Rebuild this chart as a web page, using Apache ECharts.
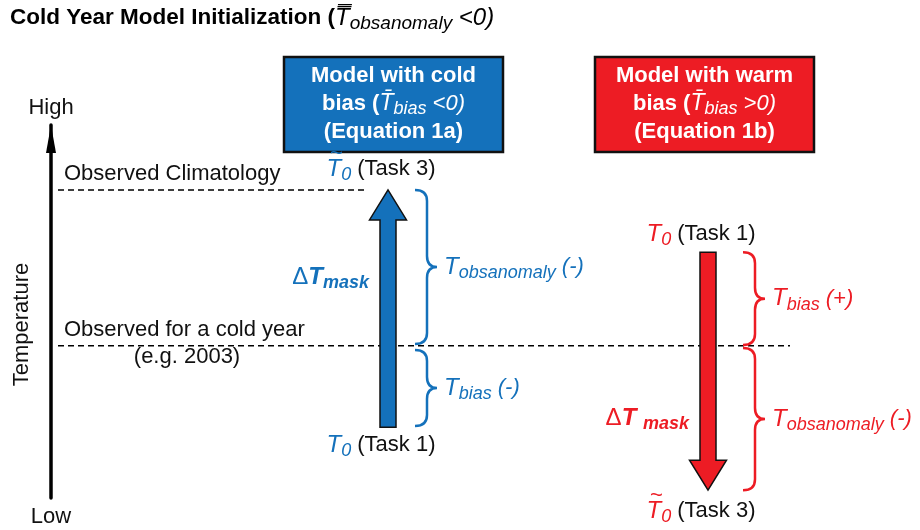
<!DOCTYPE html>
<html>
<head>
<meta charset="utf-8">
<script src="https://cdn.jsdelivr.net/npm/echarts@6/dist/echarts.min.js"></script>
<style>html,body{margin:0;background:#fff}#chart{width:920px;height:530px}</style>
</head>
<body>
<div id="chart"></div>
<script>
const FONT = "'Liberation Sans', Arial, sans-serif";
const BLUE = '#1471bb';
const RED = '#ed1c24';

// temperature scale: Low = 0, High = 100
const levelNames = ['Observed Climatology', 'Observed for a cold year'];
const levelNotes = ['', '(e.g. 2003)'];
const levelTemps = [82.6, 40.8];
const levelEnds = [368, 790];

const modelTitles = ['Model with cold', 'Model with warm'];
const modelSigns = ['<0', '>0'];
const modelEquations = ['(Equation 1a)', '(Equation 1b)'];
const modelColors = [BLUE, RED];
const arrowX = [388, 708];
const startTemps = [19.0, 65.9]; // T0 (Task 1)
const endTemps = [82.6, 2.1];    // T~0 (Task 3)
const maskTemps = [59.2, 21.4];
const maskGaps = ['', ' '];

const braceModel = [0, 0, 1, 1];
const braceTops = [82.6, 39.7, 65.9, 40.2];
const braceBottoms = [41.3, 19.3, 41.0, 2.1];
const braceTerms = ['obsanomaly', 'bias', 'bias', 'obsanomaly'];
const braceSigns = ['(-)', '(-)', '(+)', '(-)'];
const braceX = [415, 743];

const boxLeft = [284, 595];

function tRich(c) {
  return {
    t: {fill: c, fontSize: 24, fontStyle: 'italic', fontFamily: FONT, lineHeight: 30},
    s: {fill: c, fontSize: 18, fontStyle: 'italic', fontFamily: FONT, lineHeight: 30, padding: [12, 0, 0, 0]},
    n: {fill: '#111', fontSize: 22, fontFamily: FONT, lineHeight: 30},
    c: {fill: c, fontSize: 22, fontStyle: 'italic', fontFamily: FONT, lineHeight: 30}
  };
}
function maskRich(c) {
  return {
    d: {fill: c, fontSize: 24, fontFamily: FONT, lineHeight: 30},
    t: {fill: c, fontSize: 24, fontStyle: 'italic', fontWeight: 'bold', fontFamily: FONT, lineHeight: 30},
    s: {fill: c, fontSize: 18, fontStyle: 'italic', fontWeight: 'bold', fontFamily: FONT, lineHeight: 30, padding: [12, 0, 0, 0]}
  };
}
const boxRich = {
  w: {fill: '#fff', fontSize: 22, fontWeight: 'bold', fontFamily: FONT, lineHeight: 28},
  t: {fill: '#fff', fontSize: 23, fontStyle: 'italic', fontFamily: FONT, lineHeight: 28},
  s: {fill: '#fff', fontSize: 18, fontStyle: 'italic', fontFamily: FONT, lineHeight: 28, padding: [10, 0, 0, 0]},
  i: {fill: '#fff', fontSize: 22, fontStyle: 'italic', fontFamily: FONT, lineHeight: 28}
};

// width of the "T0 (Task n)" label, used to place the tilde above the T
const labelCanvas = document.createElement('canvas').getContext('2d');
function textWidth(str, font) {
  labelCanvas.font = font;
  return labelCanvas.measureText(str).width;
}
function taskLabel(x, y, c, task, tilde) {
  const w = textWidth('T', 'italic 24px ' + FONT) + textWidth('0', 'italic 18px ' + FONT) +
    textWidth(' (Task ' + task + ')', '22px ' + FONT);
  const els = [{type: 'text', style: {text: '{t|T}{s|0}{n| (Task ' + task + ')}', x: x, y: y,
    align: 'center', verticalAlign: 'middle', rich: tRich(c)}}];
  if (tilde) {
    els.push({type: 'text', style: {text: '~', x: x - w / 2 + 10, y: y - 15, align: 'center', verticalAlign: 'middle',
      fill: c, font: '22px ' + FONT}});
  }
  return els;
}

const chart = echarts.init(document.getElementById('chart'), null, {renderer: 'canvas'});

const option = {
  animation: false,
  backgroundColor: '#fff',
  title: {
    text: '{b|Cold Year Model Initialization (}{t|T\u033F}{s|obsanomaly}{i| <0)}',
    left: 10, top: 3, padding: 0,
    textStyle: {
      rich: {
        b: {color: '#000', fontSize: 22.5, fontWeight: 'bold', fontFamily: FONT, lineHeight: 30},
        t: {color: '#000', fontSize: 24, fontWeight: 'normal', fontStyle: 'italic', fontFamily: FONT, lineHeight: 30},
        s: {color: '#000', fontSize: 19, fontWeight: 'normal', fontStyle: 'italic', fontFamily: FONT, lineHeight: 30, padding: [12, 0, 0, 0]},
        i: {color: '#000', fontSize: 24, fontWeight: 'normal', fontStyle: 'italic', fontFamily: FONT, lineHeight: 30}
      }
    }
  },
  grid: {left: 51, right: 0, top: 125, bottom: 32},
  xAxis: {type: 'value', min: 51, max: 920, show: false},
  yAxis: {
    type: 'value', min: 0, max: 100,
    name: 'Temperature', nameLocation: 'middle', nameGap: 18, nameRotate: 90,
    nameTextStyle: {fontSize: 22, color: '#111', fontFamily: FONT, padding: [0, 26, 0, 0]},
    axisLine: {show: true, onZero: false, symbol: ['none', 'triangle'], symbolSize: [10, 28], symbolOffset: [0, -14],
      lineStyle: {color: '#000', width: 3.5}},
    axisTick: {show: false}, axisLabel: {show: false}, splitLine: {show: false}
  },
  graphic: [
    {type: 'text', style: {text: 'High', x: 51, y: 108, align: 'center', verticalAlign: 'middle', fill: '#111', font: '22px ' + FONT}},
    {type: 'text', style: {text: 'Low', x: 51, y: 517, align: 'center', verticalAlign: 'middle', fill: '#111', font: '22px ' + FONT}}
  ].concat(modelTitles.map((name, i) => ({
    type: 'group',
    children: [
      {type: 'rect', shape: {x: boxLeft[i], y: 57, width: 219, height: 95},
        style: {fill: modelColors[i], stroke: '#111', lineWidth: 2.5}},
      {type: 'text', style: {
        text: '{w|' + name + '}\n{w|bias (}{t|T\u0304}{s|bias}{i| ' + modelSigns[i] + ')}\n{w|' + modelEquations[i] + '}',
        x: boxLeft[i] + 109.5, y: 103.5, align: 'center', verticalAlign: 'middle', rich: boxRich}}
    ]
  }))),
  series: [
    {
      type: 'custom', coordinateSystem: 'cartesian2d', silent: true, clip: false,
      data: levelTemps.map((t, i) => [58, t, levelEnds[i]]),
      renderItem(params, api) {
        const i = params.dataIndex;
        const a = api.coord([api.value(0), api.value(1)]);
        const b = api.coord([api.value(2), api.value(1)]);
        const children = [
          {type: 'line', shape: {x1: a[0], y1: a[1], x2: b[0], y2: b[1]},
            style: {stroke: '#000', lineWidth: 1.5, lineDash: [6, 4]}},
          {type: 'text', style: {text: levelNames[i], x: a[0] + 6, y: a[1] - 16, align: 'left', verticalAlign: 'middle',
            fill: '#111', font: '22px ' + FONT}}
        ];
        if (levelNotes[i]) {
          children.push({type: 'text', style: {text: levelNotes[i], x: a[0] + 129, y: a[1] + 11, align: 'center',
            verticalAlign: 'middle', fill: '#111', font: '22px ' + FONT}});
        }
        return {type: 'group', children: children};
      }
    },
    {
      type: 'custom', coordinateSystem: 'cartesian2d', silent: true, clip: false,
      data: arrowX.map((x, i) => [x, startTemps[i], endTemps[i], maskTemps[i]]),
      renderItem(params, api) {
        const i = params.dataIndex;
        const s = api.coord([api.value(0), api.value(1)]);
        const e = api.coord([api.value(0), api.value(2)]);
        const m = api.coord([api.value(0), api.value(3)]);
        const x = s[0];
        const dir = e[1] > s[1] ? 1 : -1;
        const hb = e[1] - dir * 30;
        const c = modelColors[i];
        const pts = [[x - 8, s[1]], [x - 8, hb], [x - 18.5, hb], [x, e[1]], [x + 18.5, hb], [x + 8, hb], [x + 8, s[1]]];
        return {type: 'group', children: [
          {type: 'polygon', shape: {points: pts}, style: {fill: c, stroke: '#111', lineWidth: 1.5}},
          {type: 'text', style: {text: '{d|\u0394}{t|T' + maskGaps[i] + '}{s|mask}', x: x - 19, y: m[1], align: 'right',
            verticalAlign: 'middle', rich: maskRich(c)}}
        ].concat(taskLabel(x - 7, s[1] - dir * 18, c, 1, false), taskLabel(x - 7, e[1] + dir * 21, c, 3, true))};
      }
    },
    {
      type: 'custom', coordinateSystem: 'cartesian2d', silent: true, clip: false,
      data: braceModel.map((m, i) => [braceX[m], braceTops[i], braceBottoms[i]]),
      renderItem(params, api) {
        const i = params.dataIndex;
        const c = modelColors[braceModel[i]];
        const t = api.coord([api.value(0), api.value(1)]);
        const b = api.coord([api.value(0), api.value(2)]);
        const x0 = t[0], xv = x0 + 12, xt = x0 + 22;
        const yt = t[1], yb = b[1], ym = (yt + yb) / 2, r = 11;
        const d = 'M' + x0 + ',' + yt + ' Q' + xv + ',' + yt + ' ' + xv + ',' + (yt + r) +
          ' L' + xv + ',' + (ym - r) + ' Q' + xv + ',' + ym + ' ' + xt + ',' + ym +
          ' Q' + xv + ',' + ym + ' ' + xv + ',' + (ym + r) +
          ' L' + xv + ',' + (yb - r) + ' Q' + xv + ',' + yb + ' ' + x0 + ',' + yb;
        return {type: 'group', children: [
          {type: 'path', shape: {pathData: d}, style: {fill: 'none', stroke: c, lineWidth: 2.5}},
          {type: 'text', style: {text: '{t|T}{s|' + braceTerms[i] + '}{c| ' + braceSigns[i] + '}', x: xt + 7, y: ym,
            align: 'left', verticalAlign: 'middle', rich: tRich(c)}}
        ]};
      }
    }
  ]
};

chart.setOption(option);
</script>
</body>
</html>
